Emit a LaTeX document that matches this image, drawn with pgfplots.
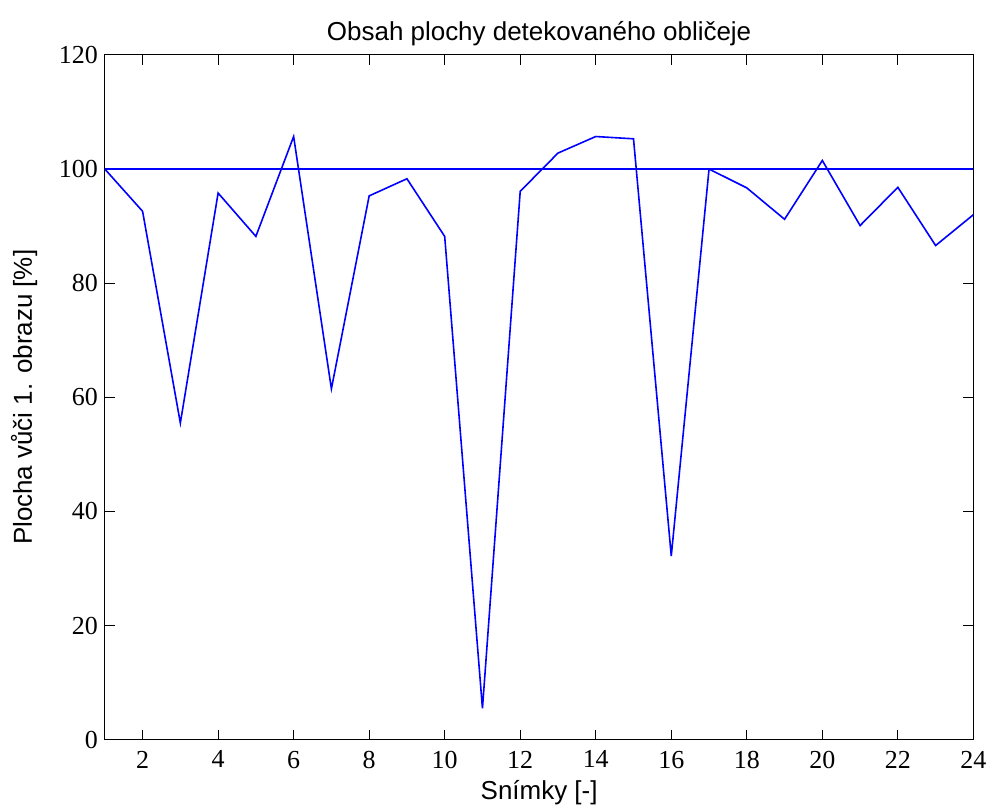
\documentclass[border=0pt]{standalone}
\usepackage{fontspec}
\setmainfont{Liberation Sans}
\newfontfamily\tickfont{Liberation Serif}
\usepackage{pgfplots}
\pgfplotsset{compat=1.18}
\begin{document}
\begin{tikzpicture}
\begin{axis}[
    scale only axis,
    width=435pt, height=343pt,
    xmin=1, xmax=24, ymin=0, ymax=120,
    xtick={2,4,...,24},
    ytick={0,20,...,120},
    tick align=inside,
    major tick length=5pt,
    axis line style={line width=0.5pt},
    every tick/.style={black, line width=0.5pt},
    /pgf/number format/assume math mode=true,
    tick label style={font=\tickfont\fontsize{13}{13}\selectfont},
    xticklabel style={yshift=-2pt},
    title={Obsah plochy detekovaného obličeje},
    title style={font=\fontsize{13}{13}\selectfont, yshift=-5pt},
    xlabel={Snímky [-]},
    ylabel={Plocha vůči 1. obrazu [\%]},
    label style={font=\fontsize{13}{13}\selectfont},
    ylabel style={yshift=4pt},
    xlabel style={yshift=1pt},
]
\addplot[blue, line width=0.8pt] coordinates {
    (1,100) (2,92.6) (3,55.5) (4,95.8) (5,88.2) (6,105.7)
    (7,61.5) (8,95.3) (9,98.3) (10,88.2) (11,5.5) (12,96.1)
    (13,102.8) (14,105.7) (15,105.3) (16,32.2) (17,100) (18,96.7)
    (19,91.2) (20,101.5) (21,90.1) (22,96.8) (23,86.6) (24,92.0)
};
\addplot[blue, line width=0.8pt] coordinates {(1,100) (24,100)};
\end{axis}
\path ([xshift=-52.5pt,yshift=-35.5pt]current axis.south west) rectangle ([xshift=9pt,yshift=27.5pt]current axis.north east);
\end{tikzpicture}
\end{document}
